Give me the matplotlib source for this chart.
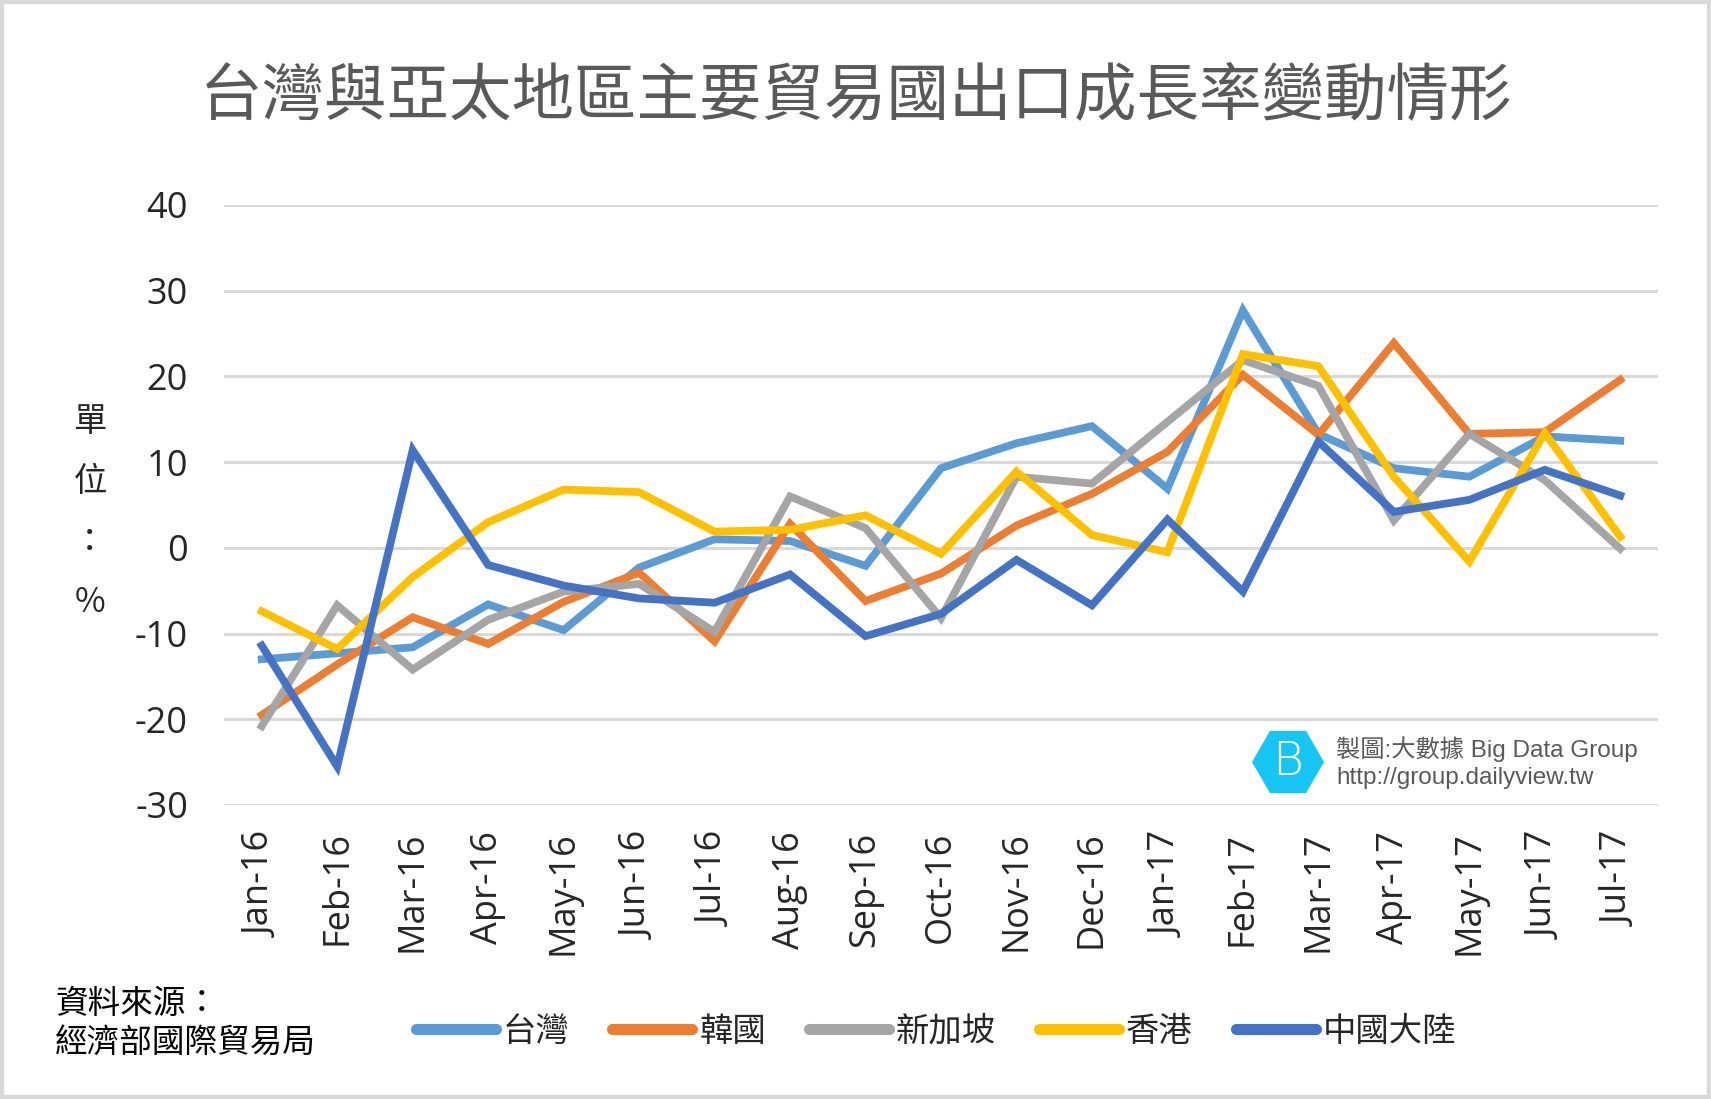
import numpy as np
import matplotlib.pyplot as plt
from matplotlib.patches import Rectangle, Polygon

plt.rcParams['font.family'] = ['Open Sans', 'Noto Sans CJK TC', 'DejaVu Sans']

# months on the category axis
months = ['Jan-16', 'Feb-16', 'Mar-16', 'Apr-16', 'May-16', 'Jun-16', 'Jul-16',
          'Aug-16', 'Sep-16', 'Oct-16', 'Nov-16', 'Dec-16', 'Jan-17', 'Feb-17',
          'Mar-17', 'Apr-17', 'May-17', 'Jun-17', 'Jul-17']

# export growth rate (%)
taiwan = [-13.0, -12.3, -11.6, -6.6, -9.6, -2.3, 1.0, 0.8, -2.1, 9.3,
          12.2, 14.2, 6.9, 27.7, 13.3, 9.3, 8.3, 13.0, 12.5]
korea = [-19.5, -13.6, -8.1, -11.2, -6.3, -2.9, -10.9, 2.8, -6.2, -3.0,
         2.6, 6.3, 11.2, 20.2, 13.2, 23.9, 13.3, 13.5, 19.6]
singapore = [-20.8, -6.7, -14.2, -8.4, -5.1, -4.2, -9.8, 6.0, 2.3, -8.2,
             8.3, 7.5, 14.7, 21.9, 18.9, 3.2, 13.3, 7.9, -0.1]
hongkong = [-7.4, -11.8, -3.4, 3.0, 6.8, 6.5, 1.9, 2.1, 3.8, -0.7,
            8.9, 1.5, -0.5, 22.6, 21.2, 8.3, -1.6, 13.4, 1.3]
china = [-11.4, -25.5, 11.4, -2.0, -4.4, -5.9, -6.4, -3.1, -10.3, -7.7,
         -1.4, -6.7, 3.3, -5.1, 12.4, 4.2, 5.6, 9.1, 6.1]

series_names = ['台灣', '韓國', '新加坡', '香港', '中國大陸']
series_values = [taiwan, korea, singapore, hongkong, china]
colors = ['#5B9BD5', '#ED7D31', '#A5A5A5', '#FFC000', '#4472C4']

yticks = [40, 30, 20, 10, 0, -10, -20, -30]
ytick_labels = ['40', '30', '20', '10', '0', '-10', '-20', '-30']

W, H = 1711, 1099
fig = plt.figure(figsize=(W / 100, H / 100), dpi=100)
ax = fig.add_axes([224 / W, 1 - 805 / H, (1658 - 224) / W, 600 / H])

x = np.arange(len(months))
for name, vals, c in zip(series_names, series_values, colors):
    ax.plot(x, vals, color=c, lw=5.6, label=name, solid_joinstyle='miter', zorder=3)

ax.set_xlim(-0.5, len(months) - 0.5)
ax.set_ylim(-30, 40)
ax.set_yticks(yticks)
ax.set_yticklabels(ytick_labels)
ax.set_xticks(x)
ax.set_xticklabels(months, rotation=90)
ax.tick_params(axis='y', length=0, pad=26, labelsize=26, labelcolor='#262626')
ax.tick_params(axis='x', length=0, pad=19, labelsize=26, labelcolor='#262626')
ax.grid(True, axis='y', color='#D9D9D9', lw=2.2, zorder=0)
for s in ax.spines.values():
    s.set_visible(False)

cjk = ['Noto Sans CJK TC', 'DejaVu Sans']

# title
fig.text(0.5, 1 - 96 / H, '台灣與亞太地區主要貿易國出口成長率變動情形', family=cjk,
         fontsize=45, color='#595959', ha='center', va='center', weight='light')

# vertical unit label
for ch, yy in zip(['單', '位', '：', '%'], [422, 481, 542, 603]):
    fig.text(90 / W, 1 - yy / H, ch, family=cjk, fontsize=24, color='#262626',
             ha='center', va='center')

# source
fig.text(55 / W, 1 - 1004 / H, '資料來源：', family=cjk, fontsize=23.5,
         color='#000000', ha='left', va='center')
fig.text(55 / W, 1 - 1043 / H, '經濟部國際貿易局', family=cjk, fontsize=23.5,
         color='#000000', ha='left', va='center')

# legend
leg = fig.legend(loc='center', bbox_to_anchor=(936 / W, 1 - 1031 / H), ncol=5,
                 frameon=False, prop={'family': cjk, 'size': 24},
                 handlelength=2.4, handletextpad=0.2, columnspacing=1.3)
for h in leg.legend_handles:
    h.set_linewidth(8)
    h.set_solid_capstyle('round')
for t in leg.get_texts():
    t.set_color('#262626')

# logo
cx, cy, r = 1288, 762, 36
ang = np.deg2rad(np.arange(0, 360, 60))
verts = [((cx + r * np.cos(a)) / W, 1 - (cy + r * np.sin(a)) / H) for a in ang]
fig.add_artist(Polygon(verts, closed=True, transform=fig.transFigure,
                       facecolor='#17C5F5', edgecolor='none'))
fig.text(cx / W, 1 - cy / H, 'B', fontsize=34, color='white', ha='center',
         va='center', family='DejaVu Sans', weight='light')
logo_font = ['Liberation Sans', 'Noto Sans CJK TC']
fig.text(1336 / W, 1 - 749 / H, '製圖:大數據 Big Data Group', family=logo_font,
         fontsize=17.5, color='#595959', ha='left', va='center')
fig.text(1336 / W, 1 - 778 / H, 'http://group.dailyview.tw', family=logo_font,
         fontsize=17.5, color='#595959', ha='left', va='center')

# outer frame
fig.add_artist(Rectangle((0, 0), 1, 1, transform=fig.transFigure, fill=False,
                         edgecolor='#D9D9D9', lw=6))

fig.savefig('out.png', dpi=100, facecolor='white')
